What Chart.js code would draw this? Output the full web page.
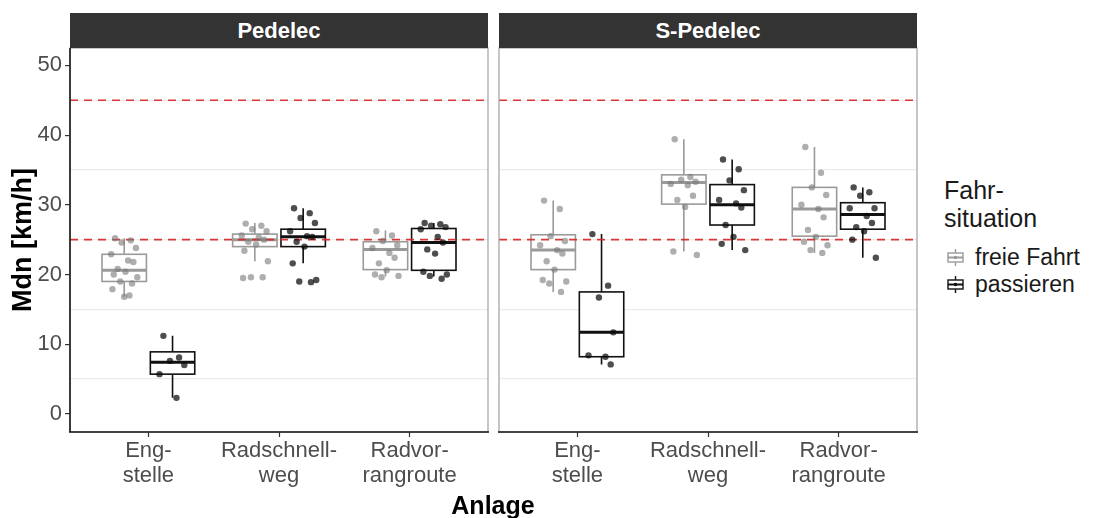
<!DOCTYPE html>
<html>
<head>
<meta charset="utf-8">
<script src="https://cdn.jsdelivr.net/npm/chart.js@4.4.1/dist/chart.umd.min.js"></script>
<style>
body { margin: 0; background: #fff; font-family: "Liberation Sans", Arial, sans-serif; }
#wrap { position: relative; width: 1094px; height: 518px; overflow: hidden; background: #fff; }
canvas { position: absolute; top: 0; }
.strip { position: absolute; top: 13px; height: 35px; background: #333; color: #fff; font-weight: bold;
  font-size: 22px; line-height: 35px; text-align: center; }
#xtitle { position: absolute; left: 393px; width: 200px; top: 490px; line-height: 30px; text-align: center;
  font-weight: bold; font-size: 25px; color: #000; }
#legend { position: absolute; left: 944px; top: 176px; color: #1a1a1a; }
#legend .ttl { font-size: 25px; line-height: 28px; }
#legend .row { position: relative; height: 27px; font-size: 23px; line-height: 27px; padding-left: 31px; }
#legend .key { position: absolute; left: 3px; top: 5px; width: 17px; height: 17px; }
</style>
</head>
<body>
<div id="wrap">
  <canvas id="c1" width="492" height="518" style="left:0px;width:492px;height:518px"></canvas>
  <canvas id="c2" width="430" height="518" style="left:492px;width:430px;height:518px"></canvas>
  <div class="strip" style="left:70px;width:418px">Pedelec</div>
  <div class="strip" style="left:499px;width:418px">S-Pedelec</div>
  <div id="xtitle">Anlage</div>
  <div id="legend">
    <div class="ttl">Fahr-<br>situation</div>
    <div style="height:12px"></div>
    <div class="row"><canvas class="key" id="k1" width="17" height="17"></canvas>freie Fahrt</div>
    <div class="row"><canvas class="key" id="k2" width="17" height="17"></canvas>passieren</div>
  </div>
</div>
<script>
// categories
var anlagen = [["Eng-", "stelle"], ["Radschnell-", "weg"], ["Radvor-", "rangroute"]];
var facets = ["Pedelec", "S-Pedelec"];
var situationen = ["freie Fahrt", "passieren"];
var yTicks = [0, 10, 20, 30, 40, 50];
var limits = [25, 45];

// box stats per Anlage: [lower whisker, q1, median, q3, upper whisker]
var pedelecFreieBox = [[16.8, 19.0, 20.6, 22.9, 25.2], [21.9, 24.0, 25.0, 25.8, 27.4], [19.7, 20.7, 23.6, 24.7, 26.3]];
var pedelecPassBox = [[2.3, 5.7, 7.4, 8.9, 11.2], [21.6, 24.0, 25.4, 26.5, 29.5], [19.7, 20.6, 24.6, 26.6, 27.4]];
var sPedelecFreieBox = [[17.5, 20.7, 23.5, 25.7, 30.6], [23.3, 30.1, 33.2, 34.3, 39.4], [23.1, 25.5, 29.4, 32.5, 38.3]];
var sPedelecPassBox = [[7.1, 8.2, 11.7, 17.5, 25.8], [23.5, 27.1, 30.0, 32.9, 36.5], [22.4, 26.5, 28.6, 30.3, 32.5]];

// single medians (points)
var pedelecFreiePts = [
  [25.2, 24.9, 24.6, 23.8, 22.9, 22.0, 21.8, 20.8, 20.4, 20.0, 19.6, 19.0, 18.7, 17.9, 17.0, 16.8],
  [27.3, 27.0, 26.5, 26.2, 25.6, 25.3, 25.0, 24.7, 24.3, 23.4, 21.9, 19.6, 19.6, 19.5],
  [26.2, 25.6, 24.8, 24.2, 23.8, 23.1, 22.4, 21.6, 20.6, 20.0, 19.8, 19.6]];
var pedelecPassPts = [
  [11.2, 8.1, 7.6, 7.0, 5.7, 2.3],
  [29.5, 28.8, 28.1, 27.4, 26.2, 25.5, 25.4, 24.7, 24.0, 21.6, 19.2, 19.0, 18.9],
  [27.4, 27.2, 27.0, 26.8, 26.5, 25.4, 24.6, 23.6, 23.0, 20.4, 20.0, 19.8, 19.4]];
var sPedelecFreiePts = [
  [30.6, 29.4, 25.5, 24.8, 24.2, 23.5, 23.0, 21.9, 20.7, 19.2, 19.0, 18.7, 17.5],
  [39.4, 34.0, 33.6, 33.3, 33.0, 32.8, 31.3, 30.7, 29.7, 23.3, 22.8],
  [38.3, 34.6, 32.5, 31.4, 30.0, 29.4, 28.2, 26.4, 25.4, 24.7, 24.2, 23.5, 23.1]];
var sPedelecPassPts = [
  [25.8, 18.4, 16.7, 11.7, 8.4, 8.2, 7.1],
  [36.5, 35.1, 33.5, 32.1, 30.7, 30.2, 29.6, 27.1, 25.4, 24.4, 23.5],
  [32.5, 31.8, 31.3, 29.5, 29.5, 28.4, 27.4, 26.8, 26.2, 25.0, 22.4]];

// horizontal spread of the jittered points
var jitter = [-0.07, 0.05, -0.02, 0.09, -0.1, 0.03, 0.07, -0.05, 0.01, -0.08, 0.1, -0.03, 0.06, -0.09, 0.04, 0.0];

var FREIE = "#9a9a9a", PASS = "#111111";
var dodge = 0.185, boxW = 0.34;
var font = "'Liberation Sans', Arial, sans-serif";
var panelBoxes = {};

function pts(arr, off) {
  var out = [];
  arr.forEach(function (vals, i) {
    vals.forEach(function (v, j) {
      out.push({ x: i + 1 + off + jitter[j % jitter.length], y: v });
    });
  });
  return out;
}

var boxPlugin = {
  id: "boxes",
  beforeDatasetsDraw: function (chart) {
    var ctx = chart.ctx, x = chart.scales.x, y = chart.scales.y;
    var groups = panelBoxes[chart.canvas.id].groups;
    ctx.save();
    groups.forEach(function (g) {
      g.stats.forEach(function (s, i) {
        var cx = x.getPixelForValue(i + 1 + g.off);
        var half = (x.getPixelForValue(boxW) - x.getPixelForValue(0)) / 2;
        var lo = y.getPixelForValue(s[0]), q1 = y.getPixelForValue(s[1]), md = y.getPixelForValue(s[2]);
        var q3 = y.getPixelForValue(s[3]), hi = y.getPixelForValue(s[4]);
        ctx.strokeStyle = g.color;
        ctx.lineWidth = 1.6;
        ctx.beginPath();
        ctx.moveTo(cx, q3); ctx.lineTo(cx, hi);
        ctx.moveTo(cx, q1); ctx.lineTo(cx, lo);
        ctx.stroke();
        ctx.fillStyle = "#fff";
        ctx.fillRect(cx - half, q3, half * 2, q1 - q3);
        ctx.strokeRect(cx - half, q3, half * 2, q1 - q3);
        ctx.lineWidth = 3;
        ctx.beginPath();
        ctx.moveTo(cx - half, md); ctx.lineTo(cx + half, md);
        ctx.stroke();
      });
    });
    ctx.restore();
  },
  afterDatasetsDraw: function (chart) {
    var ctx = chart.ctx, a = chart.chartArea;
    ctx.save();
    ctx.strokeStyle = "#a0a0a0";
    ctx.lineWidth = 1.2;
    ctx.strokeRect(a.left, a.top, a.right - a.left, a.bottom - a.top);
    ctx.strokeStyle = "#1a1a1a";
    ctx.lineWidth = 1.6;
    ctx.beginPath();
    ctx.moveTo(a.left - 1, a.bottom); ctx.lineTo(a.right + 1, a.bottom);
    if (panelBoxes[chart.canvas.id].isLeft) { ctx.moveTo(a.left, a.top); ctx.lineTo(a.left, a.bottom); }
    ctx.stroke();
    ctx.restore();
  }
};

function makePanel(id, freieBox, passBox, freiePts, passPts, isLeft) {
  panelBoxes[id] = {
    isLeft: isLeft,
    groups: [
      { stats: freieBox, off: -dodge, color: FREIE },
      { stats: passBox, off: dodge, color: PASS }
    ]
  };
  var hline = function (v) {
    return { data: [{ x: 0.4, y: v }, { x: 3.6, y: v }], showLine: true, pointRadius: 0,
      borderColor: "rgba(215,35,35,0.9)", borderWidth: 1.6, borderDash: [8, 6] };
  };
  return new Chart(document.getElementById(id), {
    type: "scatter",
    data: {
      datasets: [
        { label: situationen[1], data: pts(passPts, dodge), pointRadius: 3.2, borderWidth: 0,
          backgroundColor: "rgba(10,10,10,0.72)" },
        { label: situationen[0], data: pts(freiePts, -dodge), pointRadius: 3.2, borderWidth: 0,
          backgroundColor: "rgba(120,120,120,0.6)" },
        hline(limits[0]), hline(limits[1])
      ]
    },
    options: {
      responsive: false,
      animation: false,
      layout: { padding: isLeft ? { left: 0, right: 4, top: 48, bottom: 0 } : { left: 7, right: 5, top: 48, bottom: 0 } },
      plugins: { legend: { display: false }, tooltip: { enabled: false } },
      scales: {
        x: {
          type: "linear", min: 0.4, max: 3.6,
          afterBuildTicks: function (s) { s.ticks = [1, 2, 3].map(function (v) { return { value: v }; }); },
          afterFit: function (s) { s.height = 86; },
          border: { display: false },
          grid: { drawOnChartArea: false, drawTicks: true, tickLength: 5, tickColor: "#333", tickWidth: 1.2 },
          ticks: { autoSkip: false, maxRotation: 0, padding: 1, color: "#4d4d4d",
            font: { family: font, size: 22, lineHeight: 1.14 },
            callback: function (v) { return anlagen[v - 1]; } }
        },
        y: {
          min: -2.6, max: 52.5,
          afterBuildTicks: function (s) {
            var t = [];
            for (var v = 0; v <= 50; v += 5) t.push({ value: v });
            s.ticks = t;
          },
          afterFit: function (s) { s.width = isLeft ? 70 : 0; },
          border: { display: false },
          title: { display: isLeft, text: "Mdn [km/h]", color: "#000",
            font: { family: font, size: 27, weight: "bold" }, padding: { top: 7, bottom: 0 } },
          grid: {
            color: function (c) { return c.tick && yTicks.indexOf(c.tick.value) < 0 ? "#ebebeb" : "rgba(0,0,0,0)"; },
            lineWidth: 1.2,
            drawTicks: isLeft, tickLength: 5, tickWidth: 1.2,
            tickColor: function (c) { return c.tick && yTicks.indexOf(c.tick.value) >= 0 ? "#333" : "rgba(0,0,0,0)"; }
          },
          ticks: { display: isLeft, padding: 3, color: "#4d4d4d", font: { family: font, size: 22 },
            callback: function (v) { return yTicks.indexOf(v) >= 0 ? v : ""; } }
        }
      }
    },
    plugins: [boxPlugin]
  });
}

makePanel("c1", pedelecFreieBox, pedelecPassBox, pedelecFreiePts, pedelecPassPts, true);
makePanel("c2", sPedelecFreieBox, sPedelecPassBox, sPedelecFreiePts, sPedelecPassPts, false);

// legend keys (small boxplot glyphs)
function key(id, color) {
  var ctx = document.getElementById(id).getContext("2d");
  ctx.strokeStyle = color;
  ctx.lineWidth = 1.4;
  ctx.beginPath();
  ctx.moveTo(8.5, 0); ctx.lineTo(8.5, 17);
  ctx.stroke();
  ctx.fillStyle = "#fff";
  ctx.fillRect(1, 4, 15, 9);
  ctx.strokeRect(1, 4, 15, 9);
  ctx.lineWidth = 2;
  ctx.beginPath();
  ctx.moveTo(1, 8.5); ctx.lineTo(16, 8.5);
  ctx.stroke();
  ctx.fillStyle = color;
  ctx.beginPath(); ctx.arc(8.5, 8.5, 1.8, 0, Math.PI * 2); ctx.fill();
}
key("k1", FREIE);
key("k2", PASS);
</script>
</body>
</html>
